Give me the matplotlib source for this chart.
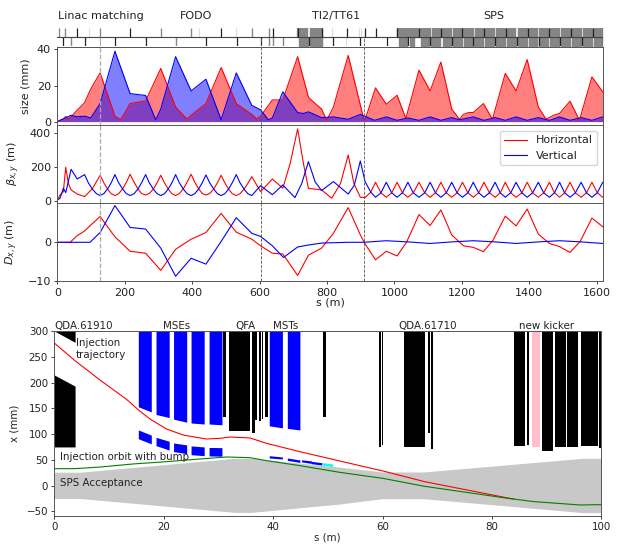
import matplotlib
matplotlib.use("Agg")
import matplotlib.pyplot as plt

# --- lattice overview, readings from the picture ---
s_size_h = [0, 18, 25, 33, 43, 52, 81, 99, 127, 171, 188, 216, 262, 307, 351, 384, 397, 441, 486, 531, 577, 591, 603, 638, 669, 713, 745, 765, 784, 799, 819, 863, 909, 913, 944, 976, 1008, 1034, 1073, 1106, 1138, 1170, 1193, 1205, 1220, 1234, 1264, 1291, 1329, 1361, 1394, 1427, 1450, 1472, 1490, 1521, 1549, 1586, 1618]
size_h = [0, 1.5, 2.8, 1.5, 3, 5, 10.5, 18, 27, 3, 1, 10, 11.5, 29.5, 8, 1.5, 3.5, 10, 30, 10, 4, 1.5, 3, 12, 12, 36, 13.5, 10, 7, 0.7, 8, 36.7, 1.5, 1, 18.7, 9.6, 14.6, 1.7, 28.5, 17, 33, 7, 1.3, 4, 5, 5, 10, 1.3, 26.7, 17, 34.4, 8, 1.3, 3.5, 4.5, 11.3, 0.7, 24.8, 16.5]
s_size_v = [0, 18, 41, 57, 82, 99, 127, 171, 216, 262, 292, 307, 351, 397, 441, 486, 531, 577, 603, 626, 638, 669, 713, 730, 745, 784, 819, 863, 899, 941, 976, 1008, 1040, 1073, 1106, 1138, 1170, 1193, 1234, 1266, 1299, 1329, 1361, 1394, 1427, 1460, 1490, 1521, 1554, 1586, 1618]
size_v = [0, 1.5, 3.5, 2.7, 3, 2, 10, 39, 15.5, 14.5, 1, 7, 36, 17, 23.5, 1, 27, 9, 6.5, 1, 2, 16.5, 5, 4.5, 5.4, 2.2, 2.6, 1.3, 4, 0.7, 2.6, 0.7, 2, 0.7, 2.6, 0.7, 2.2, 1, 2.6, 0.7, 2.2, 0.7, 2.6, 0.7, 2.2, 0.7, 2.6, 0.7, 2.2, 0.7, 2.6]

s_beta_start_h = [0, 8, 18, 25, 33, 41, 60, 81, 104]
beta_start_h = [4, 33, 53, 196, 100, 63, 38, 24, 70]
s_beta_start_v = [0, 8, 18, 25, 41, 59, 81, 92, 104, 116]
beta_start_v = [4, 14, 73, 47, 184, 127, 153, 105, 68, 41]

s_fodo = [127, 138, 149, 160, 171, 182, 194, 205, 216, 228, 239, 250, 262, 273, 285, 296, 307, 318, 329, 340, 351, 362, 374, 385, 397, 408, 419, 430, 441, 452, 464, 475, 486, 497, 508, 519, 531, 542, 554, 565, 577]
fodo_h = [149, 105, 68, 41, 30, 41, 70, 108, 155, 108, 70, 42, 33, 42, 68, 105, 149, 105, 68, 41, 30, 41, 70, 108, 155, 108, 70, 42, 33, 42, 68, 105, 149, 105, 68, 41, 30, 41, 68, 100, 141]
fodo_v = [30, 41, 68, 105, 153, 105, 68, 41, 30, 41, 68, 105, 153, 105, 68, 41, 30, 41, 68, 105, 153, 105, 68, 41, 30, 41, 68, 105, 151, 105, 68, 41, 30, 41, 68, 105, 153, 105, 68, 41, 30]

s_ti2_h = [603, 638, 669, 691, 713, 730, 745, 784, 814, 840, 863, 880, 899, 913, 930]
ti2_h = [53, 127, 73, 220, 421, 220, 72, 63, 14, 100, 268, 100, 20, 18, 50]
s_ti2_v = [603, 638, 669, 705, 725, 745, 765, 784, 819, 863, 881, 899, 913, 930]
ti2_v = [88, 35, 92, 18, 100, 229, 110, 59, 112, 39, 90, 233, 112, 50]

s_sps = [944, 960, 976, 992, 1008, 1024, 1040, 1056, 1073, 1090, 1106, 1122, 1138, 1154, 1170, 1186, 1202, 1218, 1234, 1250, 1266, 1282, 1299, 1314, 1329, 1345, 1361, 1378, 1394, 1410, 1427, 1443, 1460, 1475, 1490, 1505, 1521, 1537, 1554, 1570, 1586, 1602, 1618]
sps_h = [108, 46, 20, 46, 108, 46, 20, 46, 108, 46, 20, 46, 108, 46, 20, 46, 108, 46, 20, 46, 108, 46, 20, 46, 108, 46, 20, 46, 108, 46, 20, 46, 108, 46, 20, 46, 108, 46, 20, 46, 108, 46, 20]
sps_v = [20, 46, 108, 46, 20, 46, 108, 46, 20, 46, 108, 46, 20, 46, 108, 46, 20, 46, 108, 46, 20, 46, 108, 46, 20, 46, 108, 46, 20, 46, 108, 46, 20, 46, 108, 46, 20, 46, 108, 46, 20, 46, 108]

s_disp_h = [0, 38, 59, 81, 99, 127, 171, 216, 262, 307, 351, 397, 441, 486, 531, 577, 603, 638, 669, 713, 745, 784, 819, 863, 899, 913, 944, 976, 1008, 1036, 1073, 1106, 1138, 1170, 1205, 1234, 1264, 1293, 1329, 1361, 1394, 1427, 1460, 1490, 1521, 1551, 1586, 1618]
disp_h = [0, 0, 1.7, 2.9, 4.4, 6.6, 1.4, -2.3, -2.8, -7.2, -1.8, 0.8, 2.5, 7.4, 2.6, 0.8, -0.9, -2.8, -3, -8.5, -3.3, -1.5, 2.3, 8.9, 1.9, -0.4, -4.5, -2.3, -3.5, 0, 7.1, 4.3, 8.3, 1.9, -0.9, -1.3, -2.4, 0.6, 6.7, 4.2, 8.5, 2.1, -0.3, -1.1, -2.6, 0.2, 6.2, 4]
s_disp_v = [0, 97, 127, 171, 216, 262, 307, 351, 397, 441, 486, 531, 577, 603, 638, 671, 713, 745, 784, 863, 909, 976, 1040, 1106, 1170, 1234, 1299, 1361, 1427, 1490, 1554, 1618]
disp_v = [0, 0, 2.5, 9.4, 3.8, 3.4, -1.5, -8.7, -4.1, -5.6, 0.2, 6.3, 2.3, 1.5, -0.9, -3.9, -1.2, -0.7, -0.2, 0, 0, 0.4, 0.1, -0.3, 0.1, 0.4, 0.1, -0.3, 0.1, 0.4, 0.1, -0.3]

section_s = [126, 603, 910]

# element strip: thin ticks and dipole blocks
upper_dark = [59, 217, 487, 639, 714, 786, 860, 912, 945, 1009, 1073, 1137, 1202, 1267, 1331, 1396, 1460, 1524, 1589]
upper_gray = [6, 24, 127, 307, 397, 577, 628]
upper_light = [94, 420, 530, 816, 895, 902]
lower_dark = [18, 81, 171, 262, 442, 532, 605, 747, 817, 898, 977, 1041, 1106, 1170, 1234, 1298, 1363, 1428, 1491, 1556, 1618]
lower_gray = [40, 352, 628, 641, 669]
lower_light = [788, 857]
upper_blocks = [(712, 742), (750, 785), (1009, 1042), (1045, 1071), (1076, 1106), (1111, 1136), (1141, 1167), (1175, 1200), (1205, 1233), (1239, 1264), (1269, 1296), (1302, 1328), (1333, 1359), (1366, 1393), (1398, 1424), (1430, 1457), (1462, 1489), (1494, 1521), (1527, 1553), (1559, 1586), (1591, 1617)]
lower_blocks = [(717, 745), (750, 786), (1014, 1038), (1045, 1057), (1078, 1104), (1110, 1136), (1143, 1167), (1173, 1200), (1207, 1232), (1237, 1264), (1270, 1296), (1302, 1328), (1335, 1361), (1366, 1393), (1400, 1424), (1430, 1457), (1463, 1489), (1495, 1521), (1527, 1553), (1559, 1586), (1591, 1617)]

# --- injection region ---
s_traj = [0, 3.78, 8.35, 13.2, 15.4, 17.5, 20.5, 23.6, 27.8, 30.3, 32.1, 35.8, 38.8, 44.9, 52.2, 60.1, 67.7, 82.9, 84]
x_traj = [276.7, 242.4, 204.9, 167.4, 146.7, 129.2, 109.8, 98, 90.4, 91.7, 94.3, 92.4, 82, 65.8, 47.7, 28.3, 7.6, -24, -26]
s_orbit = [0, 3.78, 8.35, 14.4, 20.5, 26.6, 31.5, 35.8, 38.8, 44.9, 52.2, 60.1, 67.7, 82.9, 87.6, 96.1, 100]
x_orbit = [32.9, 32.9, 36, 42, 46.4, 51.6, 55.5, 54.2, 48.4, 38.7, 25.7, 14, -1.4, -24.7, -31, -37.6, -37]
s_acc = [0, 4.7, 33, 36, 52, 60, 67.5, 96.7, 100]
acc_top = [26, 26, 53, 53, 36, 26.5, 26.4, 53, 53]
acc_bottom = [-25, -25, -52, -52, -36, -25.4, -25.4, -52.5, -52.5]

# (s start, s end, lower edge at start, lower edge at end)
mse_upper = [(15.36, 17.73, 153, 143), (18.6, 21.0, 138, 132), (21.8, 24.2, 129, 123), (25.0, 27.4, 121.5, 119.5), (28.3, 30.65, 119.5, 118),
             (39.3, 41.7, 116, 112), (42.6, 44.9, 111, 108)]
# (s start, s end, top start, bottom start, top end, bottom end)
mse_lower = [(15.36, 17.73, 108, 91, 98, 81), (18.6, 21.0, 93.7, 77.5, 86, 69), (21.8, 24.2, 82.7, 66, 79, 62), (25.0, 27.4, 77, 60, 75, 58), (28.3, 30.65, 74, 57.5, 73.6, 57),
             (39.3, 41.7, 58, 53.6, 55.5, 51.6), (42.6, 44.9, 53.6, 49, 49.7, 45), (45.2, 47.0, 50, 46, 48, 43), (47.0, 48.9, 47, 42.5, 44.5, 40)]
cyan_piece = (48.9, 50.9, 44.5, 40, 42, 37)
# (s start, s end, lower edge)
black_bars = [(30.85, 31.4, 134), (31.9, 35.8, 106.6), (36.1, 36.6, 103), (36.6, 37.0, 128), (37.35, 37.85, 125.5), (38.0, 38.1, 130), (38.6, 39.05, 134), (49.05, 49.6, 134),
              (59.35, 59.8, 75.5), (59.9, 60.0, 79), (64.0, 67.85, 75.5), (68.35, 68.7, 103), (68.85, 69.3, 71.5), (84.0, 86.1, 76), (86.4, 86.7, 79),
              (89.15, 91.2, 68), (91.55, 93.5, 74.3), (93.8, 95.8, 74.3), (96.35, 99.45, 76.8), (99.55, 99.9, 73)]
pink_bar = (87.25, 88.75, 75.5)
qda_s = [0, 3.8]
qda_top_lower = [300, 278]
qda_body_top = [214.6, 193]
qda_body_bottom = 75

W, H = 620, 546
LOWER_FS = 7.4
plt.rcParams['font.size'] = 8
plt.rcParams['axes.linewidth'] = 0.7
plt.rcParams['axes.edgecolor'] = '#555555'
plt.rcParams['xtick.color'] = '#222222'
plt.rcParams['ytick.color'] = '#222222'
plt.rcParams['text.color'] = '#222222'
plt.rcParams['axes.labelcolor'] = '#222222'
plt.rcParams['mathtext.default'] = 'it'


def axes_px(fig, x0, y0, x1, y1):
    return fig.add_axes([x0 / W, 1 - y1 / H, (x1 - x0) / W, (y1 - y0) / H])


fig = plt.figure(figsize=(W / 100, H / 100), dpi=100)

XMAX = 1618
ax_strip = axes_px(fig, 57.3, 28, 602.7, 45.7)
ax_size = axes_px(fig, 57.3, 47.3, 602.7, 125.2)
ax_beta = axes_px(fig, 57.3, 125.2, 602.7, 202.7)
ax_disp = axes_px(fig, 57.3, 202.7, 602.7, 281.3)

# element strip
ax_strip.set_xlim(0, XMAX)
ax_strip.set_ylim(-1, 1)
ax_strip.axis('off')
ax_strip.vlines(upper_light, 0, 1, color='#dddddd', lw=0.8)
ax_strip.vlines(upper_gray, 0, 1, color='#888888', lw=1.0)
ax_strip.vlines(lower_light, -1, 0, color='#dddddd', lw=0.8)
ax_strip.vlines(lower_gray, -1, 0, color='#888888', lw=1.0)
for a, b in upper_blocks:
    ax_strip.fill_between([a, b], 0, 1, color='#858585', lw=1.0)
for a, b in lower_blocks:
    ax_strip.fill_between([a, b], -1, 0, color='#858585', lw=1.0)
ax_strip.axhline(0, color='#444444', lw=0.8)
ax_strip.vlines(upper_dark, 0, 1, color='#222222', lw=0.9)
ax_strip.vlines(lower_dark, -1, 0, color='#222222', lw=0.9)
ax_strip.vlines(section_s[0], -1, 0, color='#aaaaaa', lw=0.8)
ax_strip.vlines(section_s[1:], -1, 0, color='#555555', lw=0.6, linestyles='--')

for lbl, xp, ha in [("Linac matching", 58, 'left'), ("FODO", 196, 'center'), ("TI2/TT61", 336, 'center'), ("SPS", 494, 'center')]:
    fig.text(xp / W, 1 - 19 / H, lbl, ha=ha, va='baseline')

# size panel
ax_size.fill_between(s_size_h, 0, size_h, color='red', alpha=0.5, lw=0)
ax_size.fill_between(s_size_v, 0, size_v, color='blue', alpha=0.5, lw=0)
ax_size.plot(s_size_h, size_h, color='red', lw=0.8)
ax_size.plot(s_size_v, size_v, color='blue', lw=0.8)
ax_size.set_ylim(-2, 41.2)
ax_size.set_yticks([0, 20, 40])
ax_size.set_ylabel('size (mm)')
ax_size.yaxis.set_label_coords(-0.05, 0.5)

# beta panel
ax_beta.plot(s_beta_start_h + s_fodo + s_ti2_h + s_sps, beta_start_h + fodo_h + ti2_h + sps_h, color='red', lw=0.8, label='Horizontal')
ax_beta.plot(s_beta_start_v + s_fodo + s_ti2_v + s_sps, beta_start_v + fodo_v + ti2_v + sps_v, color='blue', lw=0.8, label='Vertical')
ax_beta.set_ylim(-12, 443)
ax_beta.set_yticks([0, 200, 400])
ax_beta.set_ylabel(r'$\beta_{x,y}$ (m)')
ax_beta.yaxis.set_label_coords(-0.064, 0.5)
ax_beta.legend(loc='upper right', bbox_to_anchor=(0.9895, 0.925), borderaxespad=0, fontsize=8)

# dispersion panel
ax_disp.plot(s_disp_h, disp_h, color='red', lw=0.8)
ax_disp.plot(s_disp_v, disp_v, color='blue', lw=0.8)
ax_disp.set_ylim(-10, 10.15)
ax_disp.set_yticks([-10, 0])
ax_disp.set_ylabel(r'$D_{x,y}$ (m)')
ax_disp.yaxis.set_label_coords(-0.068, 0.5)
ax_disp.set_xticks(range(0, 1601, 200))
ax_disp.set_xlabel('s (m)', labelpad=0)

for ax in (ax_size, ax_beta, ax_disp):
    ax.set_xlim(0, XMAX)
    ax.tick_params(length=2.5, width=0.6, pad=2)
    ax.axvline(section_s[0], color='#aaaaaa', ls='--', lw=0.9)
    ax.axvline(section_s[1], color='#555555', ls='--', lw=0.6)
    ax.axvline(section_s[2], color='#555555', ls='--', lw=0.6)
for ax in (ax_size, ax_beta):
    ax.tick_params(bottom=False, labelbottom=False)

# injection panel
ax_inj = axes_px(fig, 54.3, 331, 601.3, 516)
ax_inj.fill_between(s_acc, acc_bottom, acc_top, color='#c8c8c8', lw=0)
ax_inj.fill_between(qda_s, qda_top_lower, 300, color='black', lw=0)
ax_inj.fill_between(qda_s, qda_body_bottom, qda_body_top, color='black', lw=0)
for a, b, y0, y1 in mse_upper:
    ax_inj.fill_between([a, b], [y0, y1], 300, color='blue', lw=0)
for a, b, t0, b0, t1, b1 in mse_lower:
    ax_inj.fill_between([a, b], [b0, b1], [t0, t1], color='blue', lw=0)
a, b, t0, b0, t1, b1 = cyan_piece
ax_inj.fill_between([a, b], [b0, b1], [t0, t1], color='cyan', lw=0)
for a, b, y0 in black_bars:
    ax_inj.fill_between([a, b], y0, 300, color='black', lw=0)
ax_inj.fill_between(pink_bar[:2], pink_bar[2], 300, color='pink', lw=0)
ax_inj.plot(s_traj, x_traj, color='red', lw=0.8)
ax_inj.plot(s_orbit, x_orbit, color='green', lw=0.8)
ax_inj.set_xlim(0, 100)
ax_inj.set_ylim(-59, 300)
ax_inj.set_yticks(range(-50, 301, 50))
ax_inj.set_xticks(range(0, 101, 20))
ax_inj.tick_params(length=2.5, width=0.6, pad=2, labelsize=LOWER_FS)
ax_inj.set_xlabel('s (m)', labelpad=0, fontsize=LOWER_FS)
ax_inj.set_ylabel('x (mm)', fontsize=LOWER_FS)
ax_inj.yaxis.set_label_coords(-0.063, 0.5)

for lbl, xp in [("QDA.61910", 84), ("MSEs", 177), ("QFA", 245), ("MSTs", 286), ("QDA.61710", 428), ("new kicker", 547)]:
    fig.text(xp / W, 1 - 329 / H, lbl, ha='center', va='baseline', fontsize=LOWER_FS)
fig.text(76 / W, 1 - 346 / H, "Injection", ha='left', va='baseline', fontsize=LOWER_FS)
fig.text(76 / W, 1 - 357.5 / H, "trajectory", ha='left', va='baseline', fontsize=LOWER_FS)
fig.text(60 / W, 1 - 460 / H, "Injection orbit with bump", ha='left', va='baseline', fontsize=LOWER_FS)
fig.text(60 / W, 1 - 485.5 / H, "SPS Acceptance", ha='left', va='baseline', fontsize=LOWER_FS)

fig.savefig('out.png', dpi=100)
